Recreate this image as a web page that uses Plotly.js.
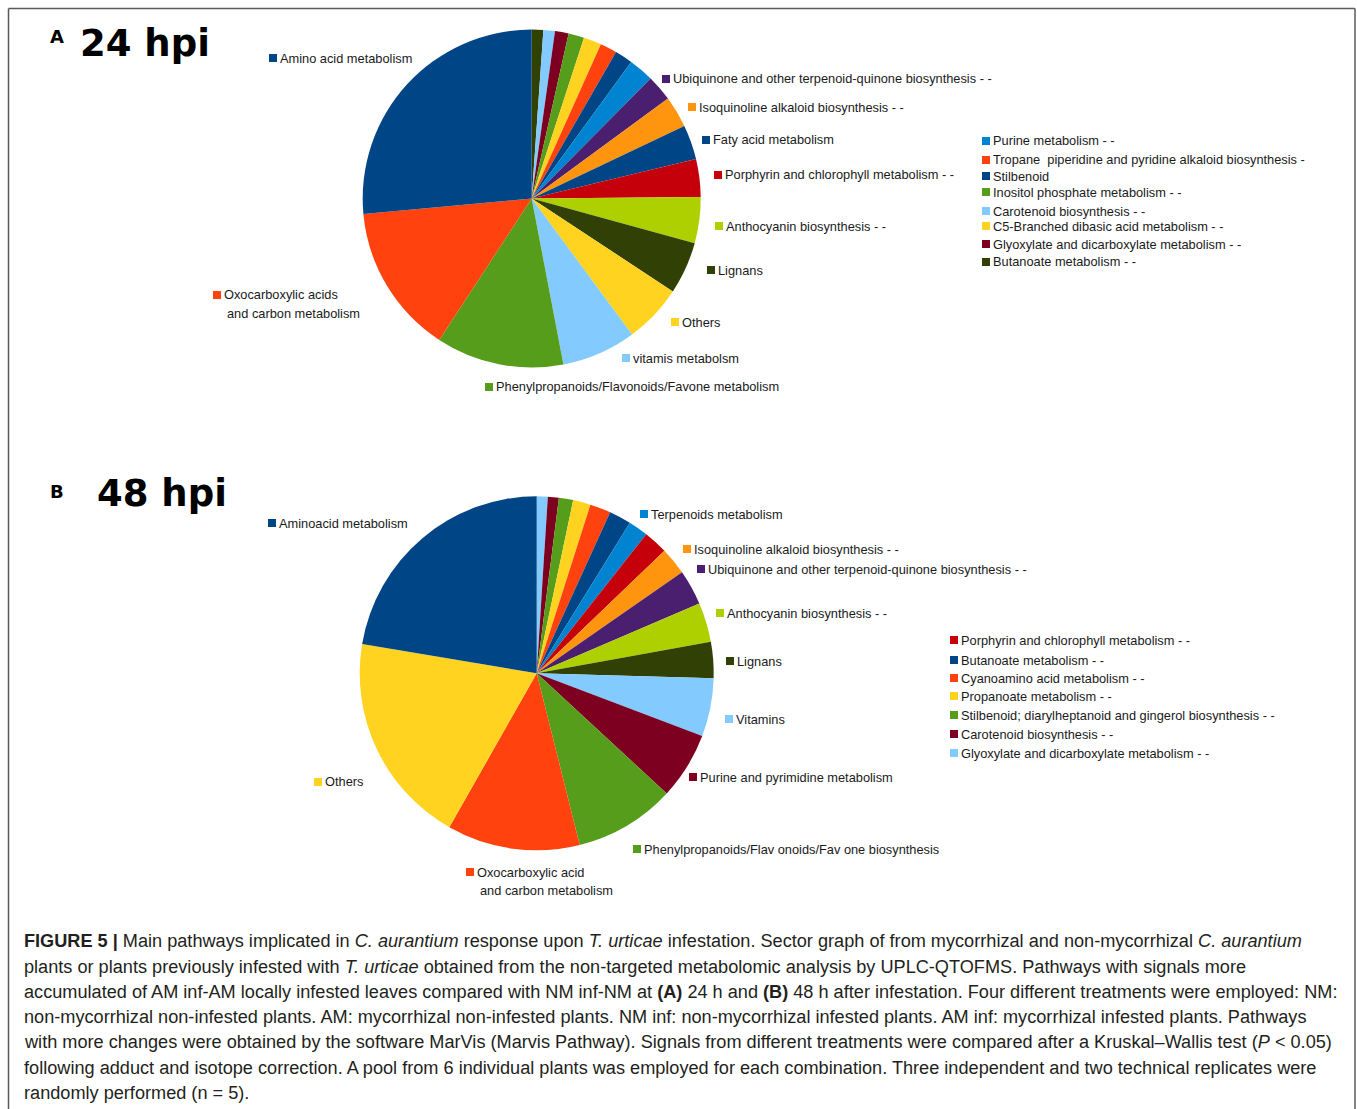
<!DOCTYPE html>
<html>
<head>
<meta charset="utf-8">
<script src="https://cdn.plot.ly/plotly-3.0.1.min.js"></script>
<style>
html, body { margin: 0; padding: 0; background: #ffffff; }
#chart { width: 1357px; height: 1109px; }
</style>
</head>
<body>
<div id="chart"></div>
<script>
// ---------- DATA (clockwise from 12 o'clock, % of signals) ----------
const labelsA = [
  "Butanoate metabolism - -",
  "Carotenoid biosynthesis - -",
  "Glyoxylate and dicarboxylate metabolism - -",
  "Inositol phosphate metabolism - -",
  "C5-Branched dibasic acid metabolism - -",
  "Tropane  piperidine and pyridine alkaloid biosynthesis -",
  "Stilbenoid",
  "Purine metabolism - -",
  "Ubiquinone and other terpenoid-quinone biosynthesis - -",
  "Isoquinoline alkaloid biosynthesis - -",
  "Faty acid metabolism",
  "Porphyrin and chlorophyll metabolism - -",
  "Anthocyanin biosynthesis - -",
  "Lignans",
  "Others",
  "vitamis metabolsm",
  "Phenylpropanoids/Flavonoids/Favone metabolism",
  "Oxocarboxylic acids<br>and carbon metabolism",
  "Amino acid metabolism"
];
const valuesA = [1.1, 1.1, 1.3, 1.5, 1.7, 1.6, 1.7, 2.4, 2.5, 3.0, 3.3, 3.6, 4.4, 5.0, 5.6, 7.1, 12.2, 14.3, 26.4];

const labelsB = [
  "Glyoxylate and dicarboxylate metabolism - -",
  "Carotenoid biosynthesis - -",
  "Stilbenoid; diarylheptanoid and gingerol biosynthesis - -",
  "Propanoate metabolism - -",
  "Cyanoamino acid metabolism - -",
  "Butanoate metabolism - -",
  "Terpenoids metabolism",
  "Porphyrin and chlorophyll metabolism - -",
  "Isoquinoline alkaloid biosynthesis - -",
  "Ubiquinone and other terpenoid-quinone biosynthesis - -",
  "Anthocyanin biosynthesis - -",
  "Lignans",
  "Vitamins",
  "Purine and pyrimidine metabolism",
  "Phenylpropanoids/Flav onoids/Fav one biosynthesis",
  "Oxocarboxylic acid<br>and carbon metabolism",
  "Others",
  "Aminoacid metabolism"
];
const valuesB = [1.0, 1.0, 1.3, 1.6, 1.9, 2.0, 1.8, 2.2, 2.5, 3.2, 3.6, 3.3, 5.3, 6.1, 9.2, 12.1, 19.4, 22.3];

const panelTitles = ["24 hpi", "48 hpi"];
const panelLetters = ["A", "B"];

const captionLines = [
  "<b>FIGURE 5 |</b> Main pathways implicated in <i>C. aurantium</i> response upon <i>T. urticae</i> infestation. Sector graph of from mycorrhizal and non-mycorrhizal <i>C. aurantium</i>",
  "plants or plants previously infested with <i>T. urticae</i> obtained from the non-targeted metabolomic analysis by UPLC-QTOFMS. Pathways with signals more",
  "accumulated of AM inf-AM locally infested leaves compared with NM inf-NM at <b>(A)</b> 24 h and <b>(B)</b> 48 h after infestation. Four different treatments were employed: NM:",
  "non-mycorrhizal non-infested plants. AM: mycorrhizal non-infested plants. NM inf: non-mycorrhizal infested plants. AM inf: mycorrhizal infested plants. Pathways",
  "with more changes were obtained by the software MarVis (Marvis Pathway). Signals from different treatments were compared after a Kruskal\u2013Wallis test (<i>P</i> &lt; 0.05)",
  "following adduct and isotope correction. A pool from 6 individual plants was employed for each combination. Three independent and two technical replicates were",
  "randomly performed (n = 5)."
];

// ---------- STYLES ----------
const C = {
  navy: "#004586", orange: "#ff420e", yellow: "#ffd320", green: "#579d1c",
  maroon: "#7e0021", sky: "#83caff", olive: "#314004", lime: "#aecf00",
  purple: "#4b1f6f", amber: "#ff950e", red: "#c5000b", blue: "#0084d1"
};
const colorsA = [C.olive, C.sky, C.maroon, C.green, C.yellow, C.orange, C.navy, C.blue, C.purple,
  C.amber, C.navy, C.red, C.lime, C.olive, C.yellow, C.sky, C.green, C.orange, C.navy];
const colorsB = [C.sky, C.maroon, C.green, C.yellow, C.orange, C.navy, C.blue, C.red, C.amber,
  C.purple, C.lime, C.olive, C.sky, C.maroon, C.green, C.orange, C.yellow, C.navy];

const W = 1357, H = 1109;
const px = x => x / W;
const py = y => 1 - y / H;

// label placement (index into labels, key-square left x, centre y) in pixels
const placeA = [
  [18, 269, 58], [8, 662, 79], [9, 688, 107], [10, 702, 140], [11, 714, 175],
  [12, 715, 226], [13, 707, 270], [14, 671, 322], [15, 622, 358], [16, 485, 387],
  [17, 213, 295],
  [7, 982, 141], [5, 982, 160], [6, 982, 176], [3, 982, 192], [1, 982, 211],
  [4, 982, 226], [2, 982, 244], [0, 982, 262]
];
const placeB = [
  [17, 268, 523], [6, 640, 514], [8, 683, 549], [9, 697, 569], [10, 716, 613],
  [11, 726, 661], [12, 725, 719], [13, 689, 777], [14, 633, 849], [15, 466, 872],
  [16, 314, 782],
  [7, 950, 640], [5, 950, 660], [4, 950, 678], [3, 950, 696], [2, 950, 715],
  [1, 950, 734], [0, 950, 753]
];

const LABEL_FONT = { family: "Liberation Sans, Arial, sans-serif", size: 12.8, color: "#1a1a1a" };
const KEY = 8;

const annotations = [];
const shapes = [];
function addLabels(labels, colors, place) {
  place.forEach(([i, x, y]) => {
    const parts = labels[i].split("<br>");
    shapes.push({
      type: "rect", xref: "paper", yref: "paper",
      x0: px(x), x1: px(x + KEY), y0: py(y + KEY / 2), y1: py(y - KEY / 2),
      fillcolor: colors[i], line: { width: 0 }
    });
    annotations.push({
      xref: "paper", yref: "paper", x: px(x + 9), y: py(y),
      xanchor: "left", yanchor: "middle", showarrow: false,
      text: parts[0], font: LABEL_FONT
    });
    if (parts.length > 1) {
      annotations.push({
        xref: "paper", yref: "paper", x: px(x + 12), y: py(y + 18),
        xanchor: "left", yanchor: "middle", showarrow: false,
        text: parts[1], font: LABEL_FONT
      });
    }
  });
}
addLabels(labelsA, colorsA, placeA);
addLabels(labelsB, colorsB, placeB);

// panel letters and titles
const letterPos = [[48, 37], [48, 492]];
const titlePos = [[78, 43], [95, 493]];
for (let k = 0; k < 2; k++) {
  annotations.push({
    xref: "paper", yref: "paper", x: px(letterPos[k][0]), y: py(letterPos[k][1]),
    xanchor: "left", yanchor: "middle", showarrow: false,
    text: "<b>" + panelLetters[k] + "</b>",
    font: { family: "DejaVu Sans, sans-serif", size: 18, color: "#000" }
  });
  annotations.push({
    xref: "paper", yref: "paper", x: px(titlePos[k][0]), y: py(titlePos[k][1]),
    xanchor: "left", yanchor: "middle", showarrow: false,
    text: "<b>" + panelTitles[k] + "</b>",
    font: { family: "DejaVu Sans, sans-serif", size: 37, color: "#000" }
  });
}

// caption
const captionY = [941, 967, 992, 1017, 1042, 1068, 1093];
captionLines.forEach((t, i) => {
  annotations.push({
    xref: "paper", yref: "paper", x: px(22), y: py(captionY[i]),
    xanchor: "left", yanchor: "middle", showarrow: false,
    text: t,
    font: { family: "Liberation Sans, Arial, sans-serif", size: 18.15, color: "#231f20" }
  });
});

// pies
function pieTrace(labels, values, colors, cx, cy, r) {
  return {
    type: "pie", labels: labels, values: values, sort: false,
    direction: "clockwise", rotation: 0, textinfo: "none", hoverinfo: "label+percent",
    showlegend: false,
    marker: { colors: colors, line: { width: 0 } },
    domain: { x: [px(cx - r), px(cx + r)], y: [py(cy + r), py(cy - r)] }
  };
}
const data = [
  pieTrace(labelsA, valuesA, colorsA, 531.7, 198.5, 169),
  pieTrace(labelsB, valuesB, colorsB, 536.7, 673.3, 177)
];

const frame = { color: "#5a5a5a", width: 1.5 };
shapes.push(
  { type: "line", xref: "paper", yref: "paper", x0: px(8.5), x1: px(1355), y0: py(8.5), y1: py(8.5), line: frame },
  { type: "line", xref: "paper", yref: "paper", x0: px(8.5), x1: px(8.5), y0: py(8.5), y1: py(1115), line: frame },
  { type: "line", xref: "paper", yref: "paper", x0: px(1355), x1: px(1355), y0: py(8.5), y1: py(1115), line: frame }
);

const layout = {
  width: W, height: H,
  margin: { l: 0, r: 0, t: 0, b: 0 },
  paper_bgcolor: "#ffffff",
  plot_bgcolor: "#ffffff",
  showlegend: false,
  annotations: annotations,
  shapes: shapes
};

Plotly.newPlot("chart", data, layout, { displayModeBar: false, staticPlot: true });
</script>
</body>
</html>
